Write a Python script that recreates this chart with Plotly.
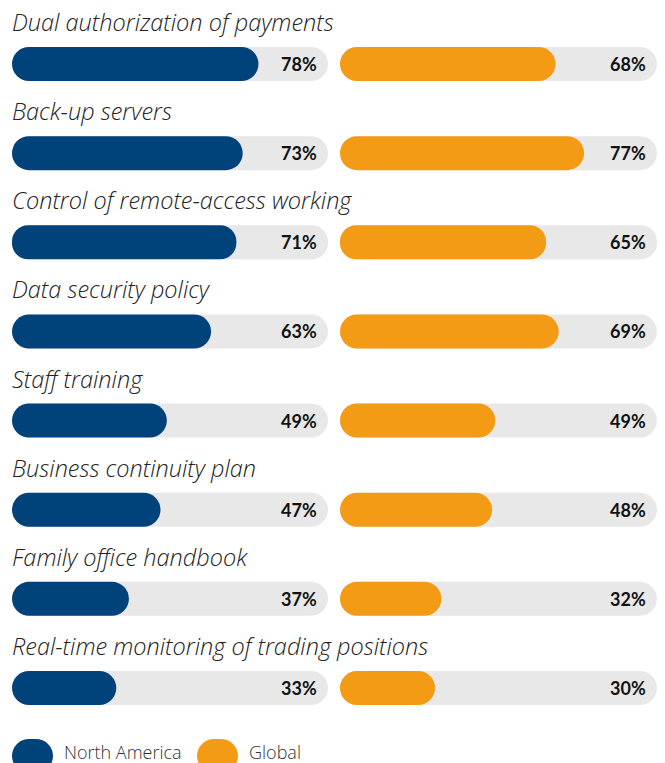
import plotly.graph_objects as go

categories = [
    "Dual authorization of payments",
    "Back-up servers",
    "Control of remote-access working",
    "Data security policy",
    "Staff training",
    "Business continuity plan",
    "Family office handbook",
    "Real-time monitoring of trading positions",
]
north_america = [78, 73, 71, 63, 49, 47, 37, 33]
global_vals = [68, 77, 65, 69, 49, 48, 32, 30]
series_names = ["North America", "Global"]

NAVY = "#00427a"
ORANGE = "#f49b15"
TRACK = "#e8e8e8"
W, H = 665, 763
ROW0, STEP = 64, 89.14
BAR_W = 34 / STEP
RADIUS = 17

rows = list(range(len(categories)))
fig = go.Figure()


def pill(fig, y, start, length, color, xa, hover=True):
    # an explicit base makes plotly round both ends of the bar
    fig.add_trace(go.Bar(y=y, x=length, base=start, orientation="h", xaxis=xa, yaxis="y",
                         marker=dict(color=color, cornerradius=RADIUS, line=dict(width=0)),
                         width=BAR_W, showlegend=False,
                         hoverinfo="x" if hover else "skip"))


for vals, color, xa in [(north_america, NAVY, "x"), (global_vals, ORANGE, "x2")]:
    pill(fig, rows, [0] * len(rows), [100] * len(rows), TRACK, xa, hover=False)
    pill(fig, rows, [0] * len(rows), vals, color, xa)

# legend keys (pixel-unit axis)
leg_y = (756 - ROW0) / STEP
pill(fig, [leg_y], [12], [41], NAVY, "x3", hover=False)
pill(fig, [leg_y], [197], [41], ORANGE, "x3", hover=False)

TITLE_FONT = dict(family="Open Sans", size=23.5, color="#222222", style="italic", weight=300)
VALUE_FONT = dict(family="Lato", size=18, color="#111111", weight=700)
LEG_FONT = dict(family="Open Sans", size=18, color="#333333", weight=300)

annotations = []
for i, cat in enumerate(categories):
    annotations.append(dict(x=0, y=i, xref="x", yref="y", text=cat, showarrow=False,
                            xanchor="left", yanchor="middle", yshift=42, xshift=-2,
                            font=TITLE_FONT))
    for vals, xr in [(north_america, "x"), (global_vals, "x2")]:
        annotations.append(dict(x=100, y=i, xref=xr, yref="y", text=f"{vals[i]}%", showarrow=False,
                                xanchor="right", yanchor="middle", xshift=-9,
                                font=VALUE_FONT))

for xpos, name in [(62, series_names[0]), (247, series_names[1])]:
    annotations.append(dict(x=xpos, y=leg_y, xref="x3", yref="y", text=name, showarrow=False,
                            xanchor="left", yanchor="middle", yshift=4,
                            font=LEG_FONT))

ax_common = dict(range=[0, 100], visible=False, fixedrange=True)
fig.update_layout(
    width=W, height=H,
    margin=dict(l=0, r=0, t=0, b=0),
    paper_bgcolor="white", plot_bgcolor="rgba(0,0,0,0)",
    barmode="overlay",
    xaxis=dict(domain=[12 / W, 328 / W], anchor="y", **ax_common),
    xaxis2=dict(domain=[340 / W, 657 / W], anchor="y", **ax_common),
    xaxis3=dict(domain=[0, 1], range=[0, W], anchor="y", visible=False, fixedrange=True),
    yaxis=dict(range=[(H - ROW0) / STEP, -ROW0 / STEP], visible=False, fixedrange=True),
    annotations=annotations,
    showlegend=False,
)

fig.write_html("out.html", config={"displayModeBar": False},
               post_script="document.body.style.margin='0';document.body.style.padding='0';")
